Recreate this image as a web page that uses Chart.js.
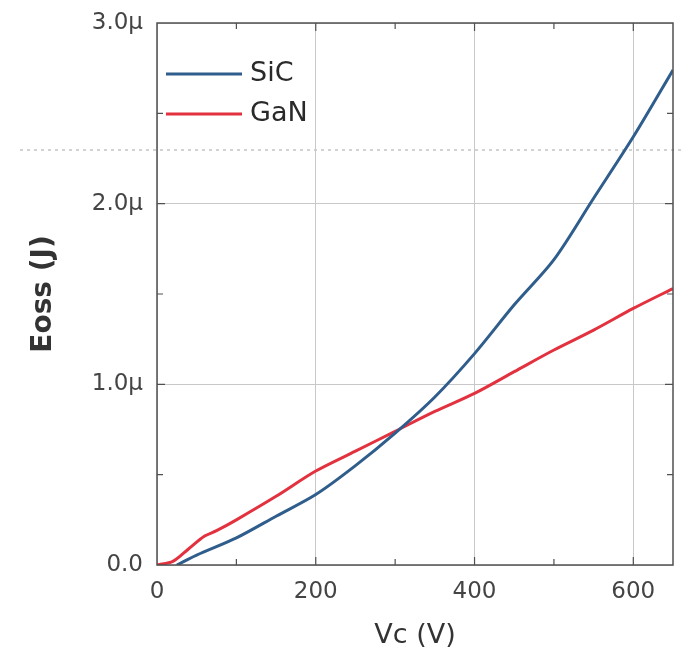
<!DOCTYPE html>
<html>
<head>
<meta charset="utf-8">
<script src="https://cdn.jsdelivr.net/npm/chart.js@4/dist/chart.umd.min.js"></script>
<style>
  html, body { margin:0; padding:0; background:#fff; }
  #eossChart { display:block; }
</style>
</head>
<body>
<canvas id="eossChart" width="682" height="656"></canvas>
<script>
// Vc (V) sample points and Eoss values in µJ
var sicVolts = [25, 50, 100, 150, 200, 250, 300, 350, 400, 450, 500, 550, 600, 650]
var sicEoss  = [0.0, 0.055, 0.15, 0.27, 0.39, 0.55, 0.73, 0.93, 1.17, 1.44, 1.69, 2.03, 2.37, 2.74]
var ganVolts = [0, 20, 40, 60, 75, 100, 150, 200, 250, 300, 350, 400, 450, 500, 550, 600, 650]
var ganEoss  = [0.0, 0.02, 0.09, 0.16, 0.19, 0.25, 0.38, 0.52, 0.63, 0.74, 0.85, 0.95, 1.07, 1.19, 1.30, 1.42, 1.53]
var xTicks = [0, 200, 400, 600]
var yTicks = [0, 1, 2, 3]

var FONT = '"DejaVu Sans", Verdana, sans-serif'

function toPoints(xs, ys){
    var pts = []
    for(var i=0; i<xs.length; i++) pts.push({x:xs[i], y:ys[i]})
    return pts
}

// box frame, inward ticks, legend and the faint dotted scan line
var framePlugin = {
    id:'frame',
    beforeDraw:function(chart){
        var ctx = chart.ctx
        ctx.save()
        ctx.strokeStyle = '#c4c4c4'
        ctx.lineWidth = 1.5
        ctx.setLineDash([3, 4])
        ctx.beginPath()
        ctx.moveTo(20, 150)
        ctx.lineTo(682, 150)
        ctx.stroke()
        ctx.restore()
    },
    afterDatasetsDraw:function(chart){
        var ctx = chart.ctx
        var a = chart.chartArea
        var xs = chart.scales.x, ys = chart.scales.y
        ctx.save()
        ctx.strokeStyle = '#505050'
        ctx.lineWidth = 1.5
        ctx.strokeRect(a.left, a.top, a.right - a.left, a.bottom - a.top)
        ctx.lineWidth = 1.2
        ctx.beginPath()
        for(var v=100; v<650; v+=100){
            var px = xs.getPixelForValue(v)
            var len = (v % 200 == 0) ? 8 : 6
            ctx.moveTo(px, a.bottom); ctx.lineTo(px, a.bottom - len)
            ctx.moveTo(px, a.top); ctx.lineTo(px, a.top + len)
        }
        for(var w=0.5; w<3; w+=0.5){
            var py = ys.getPixelForValue(w)
            var l2 = (w % 1 == 0) ? 8 : 6
            ctx.moveTo(a.left, py); ctx.lineTo(a.left + l2, py)
            ctx.moveTo(a.right, py); ctx.lineTo(a.right - l2, py)
        }
        ctx.stroke()

        // legend
        var ds = chart.data.datasets
        ctx.font = '27px ' + FONT
        ctx.textBaseline = 'middle'
        for(var i=0; i<ds.length; i++){
            var y = 74 + i*40
            ctx.strokeStyle = ds[i].borderColor
            ctx.lineWidth = 3
            ctx.beginPath()
            ctx.moveTo(166, y); ctx.lineTo(242, y)
            ctx.stroke()
            ctx.fillStyle = '#2a2a2a'
            ctx.fillText(ds[i].label, 250, y)
        }
        ctx.restore()
    }
}

var eossChart = new Chart(document.getElementById('eossChart'), {
    type:'line',
    plugins:[framePlugin],
    data:{
        datasets:[{
            label:'SiC',
            data:toPoints(sicVolts, sicEoss),
            borderColor:'#2f5d8c',
            borderWidth:3,
            pointRadius:0,
            tension:0.3,
            fill:false
        },{
            label:'GaN',
            data:toPoints(ganVolts, ganEoss),
            borderColor:'#e3323f',
            borderWidth:3,
            pointRadius:0,
            tension:0.3,
            fill:false
        }]
    },
    options:{
        responsive:false,
        animation:false,
        layout:{ padding:{ top:23, right:9, left:0, bottom:0 } },
        plugins:{ legend:{ display:false }, tooltip:{ enabled:false } },
        scales:{
            x:{
                type:'linear',
                min:0, max:650,
                afterBuildTicks:function(s){ s.ticks = xTicks.map(function(v){ return {value:v} }) },
                afterFit:function(s){ s.height = 91; s.paddingLeft = 0; s.paddingRight = 0 },
                grid:{ color:'#c8c8c8', lineWidth:1, drawTicks:false },
                border:{ display:false },
                ticks:{
                    padding:13,
                    color:'#444',
                    maxRotation:0,
                    font:{ family:FONT, size:23 }
                },
                title:{
                    display:true,
                    text:'Vc (V)',
                    color:'#333',
                    padding:{ top:0, bottom:4 },
                    font:{ family:FONT, size:27 }
                }
            },
            y:{
                type:'linear',
                min:0, max:3,
                afterBuildTicks:function(s){ s.ticks = yTicks.map(function(v){ return {value:v} }) },
                afterFit:function(s){ s.width = 157; s.paddingTop = 0; s.paddingBottom = 0 },
                grid:{ color:'#c8c8c8', lineWidth:1, drawTicks:false },
                border:{ display:false },
                ticks:{
                    padding:14,
                    color:'#444',
                    font:{ family:FONT, size:23 },
                    callback:function(v){ return v == 0 ? '0.0' : v.toFixed(1) + 'µ' }
                },
                title:{
                    display:true,
                    text:'Eoss (J)',
                    color:'#333',
                    padding:{ top:27, bottom:0 },
                    font:{ family:FONT, size:28, weight:'bold' }
                }
            }
        }
    }
})
</script>
</body>
</html>
